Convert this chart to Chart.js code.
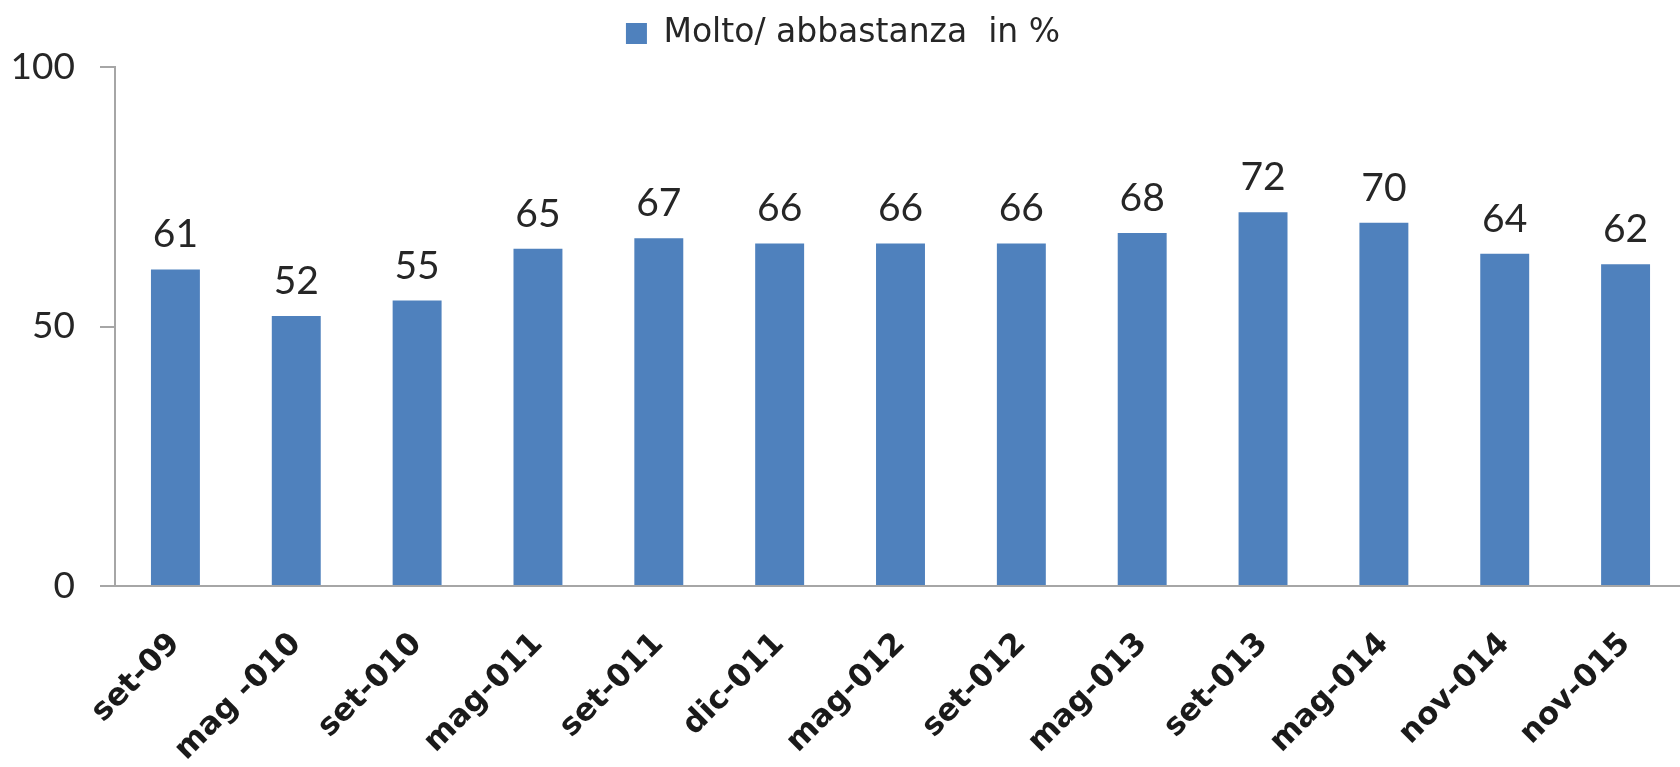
<!DOCTYPE html>
<html>
<head>
<meta charset="utf-8">
<script src="https://cdn.jsdelivr.net/npm/chart.js@4/dist/chart.umd.min.js"></script>
<style>
  html, body { margin: 0; padding: 0; background: #ffffff; overflow: hidden; }
  #wrap { width: 1680px; height: 767px; position: relative; overflow: hidden; }
</style>
</head>
<body>
<div id="wrap"><canvas id="c" width="1686" height="767"></canvas></div>
<script>
const categories = ["set-09", "mag -010", "set-010", "mag-011", "set-011", "dic-011", "mag-012", "set-012", "mag-013", "set-013", "mag-014", "nov-014", "nov-015"];
const seriesName = "Molto/ abbastanza  in %";
const values = [61, 52, 55, 65, 67, 66, 66, 66, 68, 72, 70, 64, 62];
const yTicks = [0, 50, 100];

const NUMFONT = "Lato, 'Noto Sans', 'DejaVu Sans', sans-serif";
const TXTFONT = "'DejaVu Sans', 'Noto Sans', sans-serif";

const valueLabels = {
  id: 'valueLabels',
  afterDatasetsDraw(chart) {
    const ctx = chart.ctx;
    const meta = chart.getDatasetMeta(0);
    ctx.save();
    ctx.font = "39px " + NUMFONT;
    ctx.fillStyle = "#262626";
    ctx.textAlign = "center";
    ctx.textBaseline = "alphabetic";
    meta.data.forEach((bar, i) => {
      ctx.fillText(String(values[i]), bar.x, bar.y - 22);
    });
    ctx.restore();
  }
};

const legendSpacing = {
  id: 'legendSpacing',
  beforeInit(chart) {
    const origFit = chart.legend.fit;
    chart.legend.fit = function () {
      origFit.bind(chart.legend)();
      this.height += 7;
    };
  }
};

new Chart(document.getElementById('c'), {
  type: 'bar',
  data: {
    labels: categories,
    datasets: [{
      label: seriesName,
      data: values,
      backgroundColor: '#4F81BD',
      borderWidth: 0,
      categoryPercentage: 1.0,
      barPercentage: 0.405
    }]
  },
  options: {
    responsive: false,
    animation: false,
    devicePixelRatio: 1,
    layout: { padding: { left: 0, right: 0, top: 9, bottom: 0 } },
    plugins: {
      legend: {
        display: true,
        position: 'top',
        labels: {
          boxWidth: 21,
          boxHeight: 21,
          padding: 8,
          color: '#262626',
          font: { family: TXTFONT, size: 33 }
        }
      },
      tooltip: { enabled: false }
    },
    scales: {
      x: {
        grid: { display: true, drawOnChartArea: false, drawTicks: true, tickLength: 36, tickColor: 'rgba(0,0,0,0)' },
        border: { display: true, color: '#a6a6a6', width: 2 },
        ticks: {
          color: '#1a1a1a',
          font: { family: TXTFONT, size: 31, weight: 'bold' },
          maxRotation: 45,
          minRotation: 45,
          padding: 4,
          autoSkip: false
        },
        afterFit(scale) { scale.height = 181; }
      },
      y: {
        min: 0,
        max: 100,
        afterBuildTicks(scale) { scale.ticks = yTicks.map(v => ({ value: v })); },
        grid: { display: true, drawOnChartArea: false, drawTicks: true, tickLength: 15, color: '#a6a6a6', lineWidth: 2 },
        border: { display: true, color: '#a6a6a6', width: 2 },
        ticks: {
          color: '#262626',
          font: { family: NUMFONT, size: 37 },
          padding: 25
        },
        afterFit(scale) { scale.width = 115; }
      }
    }
  },
  plugins: [valueLabels, legendSpacing]
});
</script>
</body>
</html>
